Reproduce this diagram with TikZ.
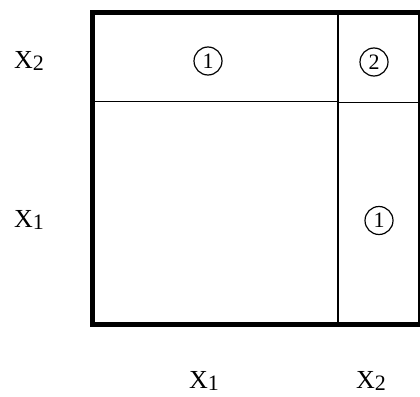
\documentclass[tikz,border=0pt]{standalone}
\usepackage{fontspec}
\setmainfont{Liberation Serif}
\begin{document}
\begin{tikzpicture}[x=1pt,y=-1pt,
  thickline/.style={line width=5pt},
  thinline/.style={line width=1.3pt},
  lab/.style={inner sep=0pt, font=\fontsize{26}{26}\selectfont},
  circ/.style={circle, draw, line width=1.2pt, minimum size=28pt, inner sep=0pt, font=\fontsize{22}{22}\selectfont}]
\useasboundingbox (0,0) rectangle (420,396);
\fill[white] (0,0) rectangle (420,396);
% corners
\coordinate (tl) at (92.5,13);
\coordinate (tr) at (420,13);
\coordinate (br) at (420,324);
\coordinate (bl) at (92.5,324);
\coordinate (vt) at (338,13);
\coordinate (vb) at (338,324);
\coordinate (hl) at (92.5,101.5);
\coordinate (hm) at (338,101.5);
\coordinate (hm2) at (338,102.5);
\coordinate (hr) at (420,102.5);
\coordinate (tk) at (338,111);
% inner lines
\draw[thinline] (vt) -- (vb);
\draw[thinline] (hl) -- (hm);
\draw[thinline] (hm2) -- (hr);
\draw[line width=2.2pt] (hm2) -- (tk);
% outer frame
\draw[thickline, line cap=rect] (tl) -- (tr) -- (br) -- (bl) -- cycle;
% circled numbers
\node[circ] (c1) at (208,61) {1};
\node[circ] (c2) at (374,62) {2};
\node[circ] (c3) at (379,220.5) {1};
% axis labels
\node[lab] (l2) at (29,61) {X\raisebox{-2pt}{\fontsize{22}{22}\selectfont 2}};
\node[lab] (l1) at (29,220) {X\raisebox{-2pt}{\fontsize{22}{22}\selectfont 1}};
\node[lab] (b1) at (204,381) {X\raisebox{-2pt}{\fontsize{22}{22}\selectfont 1}};
\node[lab] (b2) at (371,381) {X\raisebox{-2pt}{\fontsize{22}{22}\selectfont 2}};
\end{tikzpicture}
\end{document}
